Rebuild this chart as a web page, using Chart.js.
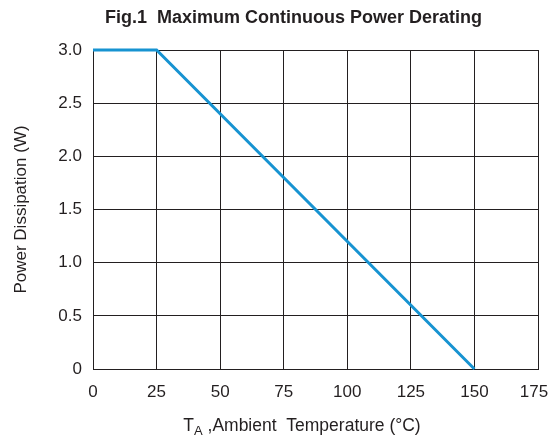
<!DOCTYPE html>
<html><head><meta charset="utf-8">
<script src="https://cdn.jsdelivr.net/npm/chart.js@4/dist/chart.umd.min.js"></script>
<style>html,body{margin:0;padding:0;background:#fff;}#wrap{position:relative;width:550px;height:438px;}</style>
</head><body><div id="wrap"><canvas id="c" width="550" height="438"></canvas></div>
<script>
const titleText = 'Fig.1  Maximum Continuous Power Derating';
const yTitle = 'Power Dissipation (W)';
const temps = [0, 25, 150];
const power = [3.0, 3.0, 0];
const xTicks = [0, 25, 50, 75, 100, 125, 150, 175];
const yTicks = [0, 0.5, 1.0, 1.5, 2.0, 2.5, 3.0];

const FONT = '"Liberation Sans", Arial, sans-serif';
const textPlugin = {
  id: 'texts',
  beforeDatasetsDraw(chart) {
    // right frame line at the x scale maximum
    const ctx = chart.ctx, sx = chart.scales.x, a = chart.chartArea;
    const px = Math.round(sx.getPixelForValue(sx.max)) + 0.5;
    ctx.save();
    ctx.strokeStyle = '#231f20'; ctx.lineWidth = 1;
    ctx.beginPath(); ctx.moveTo(px, a.top); ctx.lineTo(px, a.bottom); ctx.stroke();
    ctx.restore();
  },
  afterDraw(chart) {
    const ctx = chart.ctx;
    const a = chart.chartArea;
    ctx.save();
    ctx.fillStyle = '#231f20';
    ctx.font = 'bold 18px ' + FONT;
    ctx.textAlign = 'center'; ctx.textBaseline = 'middle';
    ctx.fillText(titleText, 293.5, 18);
    // y title
    ctx.font = '17px ' + FONT;
    ctx.save();
    ctx.translate(21, (a.top + a.bottom) / 2);
    ctx.rotate(-Math.PI / 2);
    ctx.fillText(yTitle, 0, 0);
    ctx.restore();
    // x title with subscript
    const parts = [['T', 17.5, 0], ['A', 13, 4], [' ,Ambient  Temperature (°C)', 17.5, 0]];
    let total = 0;
    parts.forEach(p => { ctx.font = p[1] + 'px ' + FONT; total += ctx.measureText(p[0]).width; });
    let x = 302 - total / 2;
    ctx.textAlign = 'left'; ctx.textBaseline = 'alphabetic';
    parts.forEach(p => { ctx.font = p[1] + 'px ' + FONT; ctx.fillText(p[0], x, 431 + p[2]); x += ctx.measureText(p[0]).width; });
    ctx.restore();
  }
};

new Chart(document.getElementById('c'), {
  type: 'line',
  data: {
    datasets: [{
      data: temps.map((t, i) => ({x: t, y: power[i]})),
      borderColor: '#1793d1',
      borderWidth: 3,
      pointRadius: 0,
      tension: 0,
      fill: false,
      clip: 4
    }]
  },
  options: {
    responsive: false,
    animation: false,
    layout: { padding: { top: 50, right: 12, left: 0, bottom: 0 } },
    plugins: { legend: { display: false }, tooltip: { enabled: false } },
    scales: {
      x: {
        type: 'linear', min: 0, max: 175,
        afterBuildTicks(s) { s.ticks = xTicks.map(v => ({value: v})); },
        afterFit(s) { s.height = 69; s.paddingRight = 0; s.paddingLeft = 0; },
        afterUpdate(s) {
          const orig = s._computeLabelItems;
          if (typeof orig !== 'function' || s._wrapped) return;
          s._wrapped = true;
          s._computeLabelItems = function (ca) {
            const items = orig.call(this, ca);
            try {
              const last = items[items.length - 1];
              if (last && last.options && last.options.translation) last.options.translation[0] -= 4;
            } catch (e) {}
            return items;
          };
        },
        grid: { color: '#231f20', lineWidth: 1, drawTicks: false },
        border: { color: '#231f20', width: 1 },
        ticks: { padding: 13, color: '#231f20', font: { size: 17, family: FONT } }
      },
      y: {
        type: 'linear', min: 0, max: 3,
        afterBuildTicks(s) { s.ticks = yTicks.map(v => ({value: v})); },
        afterFit(s) { s.width = 93; },
        grid: { color: '#231f20', lineWidth: 1, drawTicks: false },
        border: { color: '#231f20', width: 1 },
        ticks: { padding: 11, color: '#231f20', font: { size: 17, family: FONT },
          callback: v => v === 0 ? '0' : v.toFixed(1) }
      }
    }
  },
  plugins: [textPlugin]
});
</script></body></html>
